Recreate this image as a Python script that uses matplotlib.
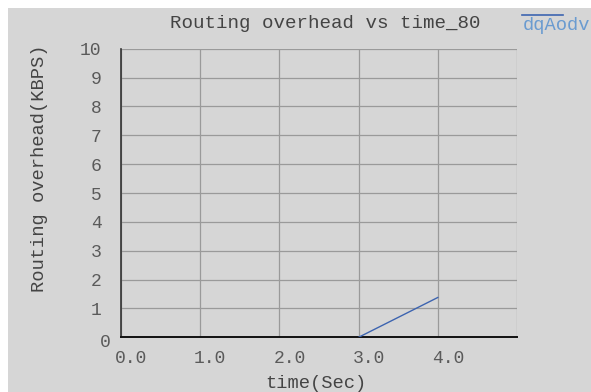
import matplotlib
matplotlib.use("Agg")
import matplotlib.pyplot as plt
from matplotlib.lines import Line2D
from matplotlib.patches import Rectangle
import matplotlib.transforms as mtrans

# ---- data ----
time_sec = [3.0, 4.0]
overhead_kbps = [0.0, 1.38]
series_name = "dqAodv"
x_ticks = [0.0, 1.0, 2.0, 3.0, 4.0]
x_tick_labels = ["0.0", "1.0", "2.0", "3.0", "4.0"]
y_ticks = list(range(0, 11))
title = "Routing overhead vs time_80"
xlabel = "time(Sec)"
ylabel = "Routing overhead(KBPS)"

W, H = 591, 392
DPI = 100
BG = "#d6d6d6"
FONT = ["Liberation Mono", "DejaVu Sans Mono"]

fig = plt.figure(figsize=(W / DPI, H / DPI), dpi=DPI)
fig.patch.set_facecolor("white")
fig.add_artist(Rectangle((8 / W, 0), 1 - 8 / W, 1 - 8 / H, transform=fig.transFigure,
                         facecolor=BG, edgecolor="none", zorder=-10))

left, right, bottom, top = 121, 517, 337.3, 48.7
ax = fig.add_axes([left / W, 1 - bottom / H, (right - left) / W, (bottom - top) / H])
ax.set_facecolor(BG)
ax.set_xlim(0, 5.0)
ax.set_ylim(0, 10)

ax.plot(time_sec, overhead_kbps, color="#3d64b0", lw=1.0, zorder=3)

ax.set_xticks(x_ticks)
ax.set_xticklabels(x_tick_labels)
ax.set_yticks(y_ticks)
ax.set_xticks([5.0], minor=True)
ax.grid(True, color="#9a9a9a", lw=0.9, which="both")
ax.set_axisbelow(True)

for s in ["top", "right"]:
    ax.spines[s].set_visible(False)
ax.spines["left"].set_color("#333333")
ax.spines["bottom"].set_color("#111111")
ax.spines["left"].set_linewidth(1.2)
ax.spines["bottom"].set_linewidth(1.4)

ax.tick_params(axis="both", which="both", length=0, labelcolor="#5a5a5a", labelsize=13)
ax.tick_params(axis="x", pad=9)
ax.tick_params(axis="y", pad=14)
for lab in ax.get_xticklabels() + ax.get_yticklabels():
    lab.set_family(FONT)

# shift x tick labels slightly right like the reference
off = mtrans.ScaledTranslation(10 / DPI, 0, fig.dpi_scale_trans)
for lab in ax.get_xticklabels():
    lab.set_transform(lab.get_transform() + off)
# the "0" y label sits a bit lower/right in the reference
ylabs = ax.get_yticklabels()
off0 = mtrans.ScaledTranslation(9 / DPI, -3 / DPI, fig.dpi_scale_trans)
ylabs[0].set_transform(ylabs[0].get_transform() + off0)

fig.text(170 / W, 1 - 28 / H, title, ha="left", va="baseline", fontsize=13.8,
         family=FONT, color="#444444")
fig.text(316 / W, 1 - 388 / H, xlabel, ha="center", va="baseline", fontsize=13.5,
         family=FONT, color="#444444")
fig.text(44 / W, 1 - 168 / H, ylabel, ha="center", va="baseline", rotation=90,
         rotation_mode="anchor", fontsize=13.5, family=FONT, color="#444444")

# legend entry
fig.add_artist(Line2D([522 / W, 563 / W], [1 - 15 / H, 1 - 15 / H], transform=fig.transFigure,
                      color="#3d64b0", lw=1.2))
fig.text(523 / W, 1 - 30 / H, series_name, ha="left", va="baseline", fontsize=13.5,
         family=FONT, color="#6a9bd0")

fig.savefig("out.png", dpi=DPI, facecolor=fig.get_facecolor())
